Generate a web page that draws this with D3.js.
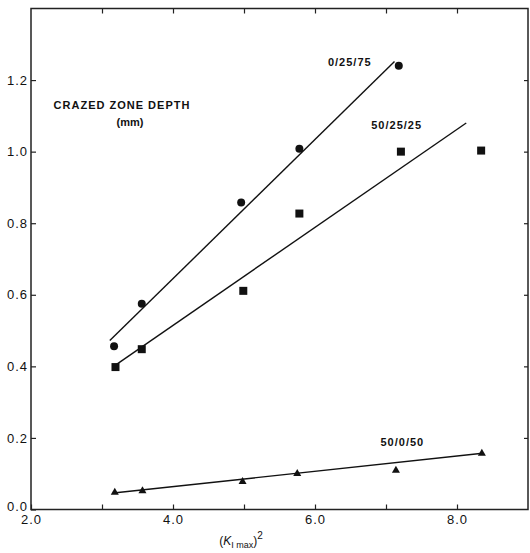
<!DOCTYPE html>
<html>
<head>
<meta charset="utf-8">
<script src="https://cdn.jsdelivr.net/npm/d3@7"></script>
<style>
  body { margin: 0; background: #fff; }
  svg text { font-family: "Liberation Sans", Arial, Helvetica, sans-serif; fill: #111; }
</style>
</head>
<body>
<div id="chart"></div>
<script>
// data
const circleX = [3.17, 3.56, 4.96, 5.78, 7.18];
const circleY = [0.456, 0.575, 0.858, 1.008, 1.24];

const squareX = [3.19, 3.56, 4.99, 5.78, 7.21, 8.34];
const squareY = [0.398, 0.448, 0.611, 0.827, 1.0, 1.003];

const triX = [3.18, 3.57, 4.98, 5.75, 7.14, 8.35];
const triY = [0.048, 0.052, 0.078, 0.100, 0.109, 0.157];

// hand drawn fit lines, [x, y] endpoints
const fitCircle = [[3.11, 0.472], [7.12, 1.252]];
const fitSquare = [[3.2, 0.405], [8.13, 1.08]];
const fitTri = [[3.16, 0.046], [8.36, 0.157]];

const seriesLabels = ["0/25/75", "50/25/25", "50/0/50"];
const labelPos = [[6.49, 1.25], [7.15, 1.074], [7.23, 0.189]];

const xTicks = [2, 3, 4, 5, 6, 7, 8];
const xLabelTicks = [2, 4, 6, 8];
const yTicks = [0, 0.2, 0.4, 0.6, 0.8, 1.0, 1.2];

const width = 530, height = 553;

const svg = d3.select("#chart").append("svg")
    .attr("width", width)
    .attr("height", height);

const x = d3.scaleLinear().domain([2, 9]).range([31, 528]);
const y = d3.scaleLinear().domain([0, 1.4]).range([509.5, 8.5]);

// frame
svg.append("rect")
    .attr("x", x(2))
    .attr("y", y(1.4))
    .attr("width", x(9) - x(2))
    .attr("height", y(0) - y(1.4))
    .attr("fill", "none")
    .attr("stroke", "#222")
    .attr("stroke-width", 1.5);

// bottom axis, ticks pointing in
const xAxis = svg.append("g")
    .attr("transform", `translate(0,${y(0)})`)
    .call(d3.axisBottom(x)
        .tickValues(xTicks)
        .tickSizeInner(-5)
        .tickSizeOuter(0)
        .tickPadding(5)
        .tickFormat(d => xLabelTicks.includes(d) ? d.toFixed(1) : ""));
xAxis.select(".domain").remove();
xAxis.selectAll("text").style("font-size", "13px").style("letter-spacing", "1px");
xAxis.selectAll("line").attr("stroke", "#222").attr("stroke-width", 1.2);

// left axis
const yAxis = svg.append("g")
    .attr("transform", `translate(${x(2)},0)`)
    .call(d3.axisLeft(y)
        .tickValues(yTicks)
        .tickSizeInner(-5)
        .tickSizeOuter(0)
        .tickPadding(3)
        .tickFormat(d => d.toFixed(1)));
yAxis.select(".domain").remove();
yAxis.selectAll("text").style("font-size", "13px").style("letter-spacing", "1px");
yAxis.selectAll("line").attr("stroke", "#222").attr("stroke-width", 1.2);
yAxis.selectAll(".tick").filter(d => d === 0).select("text").attr("dy", "0.05em");

// top and right ticks
const topAxis = svg.append("g")
    .attr("transform", `translate(0,${y(1.4)})`)
    .call(d3.axisTop(x).tickValues(xTicks.slice(1)).tickSizeInner(-5).tickSizeOuter(0).tickFormat(""));
topAxis.select(".domain").remove();
topAxis.selectAll("line").attr("stroke", "#222").attr("stroke-width", 1.2);

const rightAxis = svg.append("g")
    .attr("transform", `translate(${x(9)},0)`)
    .call(d3.axisRight(y).tickValues(yTicks.slice(1)).tickSizeInner(-4).tickSizeOuter(0).tickFormat(""));
rightAxis.select(".domain").remove();
rightAxis.selectAll("line").attr("stroke", "#222").attr("stroke-width", 1.2);

// fit lines
const line = d3.line().x(d => x(d[0])).y(d => y(d[1]));
[fitCircle, fitSquare, fitTri].forEach(f => {
    svg.append("path")
        .datum(f)
        .attr("fill", "none")
        .attr("stroke", "#111")
        .attr("stroke-width", 1.4)
        .attr("d", line);
});

// markers
svg.selectAll("circle.pt")
    .data(d3.zip(circleX, circleY))
    .enter()
    .append("circle")
    .attr("class", "pt")
    .attr("cx", d => x(d[0]))
    .attr("cy", d => y(d[1]))
    .attr("r", 4)
    .attr("fill", "#111");

svg.selectAll("rect.pt")
    .data(d3.zip(squareX, squareY))
    .enter()
    .append("rect")
    .attr("class", "pt")
    .attr("x", d => x(d[0]) - 4)
    .attr("y", d => y(d[1]) - 4)
    .attr("width", 8)
    .attr("height", 8)
    .attr("fill", "#111");

const tri = d3.symbol().type(d3.symbolTriangle).size(28);
svg.selectAll("path.pt")
    .data(d3.zip(triX, triY))
    .enter()
    .append("path")
    .attr("class", "pt")
    .attr("transform", d => `translate(${x(d[0])},${y(d[1])})`)
    .attr("d", tri)
    .attr("fill", "#111");

// series labels
svg.selectAll("text.series")
    .data(seriesLabels)
    .enter()
    .append("text")
    .attr("class", "series")
    .attr("x", (d, i) => x(labelPos[i][0]))
    .attr("y", (d, i) => y(labelPos[i][1]))
    .attr("dy", "0.35em")
    .attr("text-anchor", "middle")
    .style("font-size", "11px")
    .style("font-weight", "bold")
    .style("letter-spacing", "1px")
    .text(d => d);

// y title
svg.append("text")
    .attr("x", 122)
    .attr("y", 109)
    .attr("text-anchor", "middle")
    .style("font-size", "11px")
    .style("font-weight", "bold")
    .style("letter-spacing", "1px")
    .text("CRAZED ZONE DEPTH");
svg.append("text")
    .attr("x", 130)
    .attr("y", 126)
    .attr("text-anchor", "middle")
    .style("font-size", "11px")
    .style("font-weight", "bold")
    .text("(mm)");

// x title: (K_I max)^2
const xt = svg.append("text")
    .attr("x", 241)
    .attr("y", 545)
    .attr("text-anchor", "middle")
    .style("font-size", "12px");
xt.append("tspan").text("(");
xt.append("tspan").style("font-style", "italic").text("K");
xt.append("tspan").attr("dy", 3).style("font-size", "9px").text("I max");
xt.append("tspan").attr("dy", -3).text(")");
xt.append("tspan").attr("dy", -6).style("font-size", "10px").text("2");
</script>
</body>
</html>
